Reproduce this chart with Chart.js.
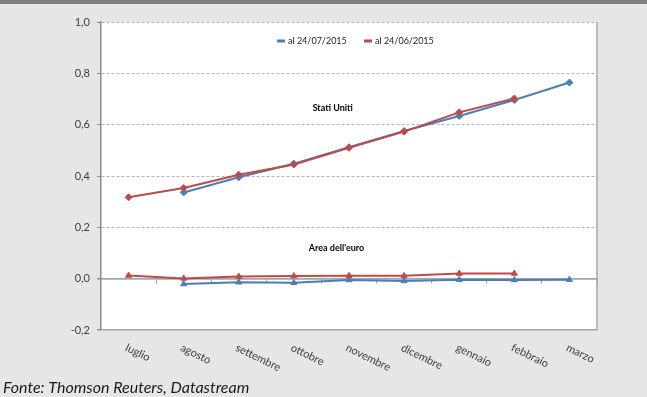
<!DOCTYPE html>
<html>
<head>
<meta charset="utf-8">
<script src="https://cdn.jsdelivr.net/npm/chart.js@4/dist/chart.umd.min.js"></script>
<style>
  html, body { margin: 0; padding: 0; background: #e6e6e6; overflow: hidden; }
  #chart { display: block; }
</style>
</head>
<body>
<canvas id="chart" width="647" height="397"></canvas>
<script>
const months = ["luglio", "agosto", "settembre", "ottobre", "novembre", "dicembre", "gennaio", "febbraio", "marzo"];
const seriesNames = ["al 24/07/2015", "al 24/06/2015"];

// Stati Uniti
const usJul = [null, 0.336, 0.395, 0.448, 0.512, 0.575, 0.634, 0.696, 0.764];
const usJun = [0.317, 0.353, 0.405, 0.445, 0.510, 0.573, 0.648, 0.702, null];
// Area dell'euro
const euJul = [null, -0.021, -0.014, -0.016, -0.005, -0.009, -0.004, -0.005, -0.004];
const euJun = [0.012, 0.001, 0.008, 0.010, 0.011, 0.011, 0.020, 0.020, null];

const yMin = -0.2, yMax = 1.0, yStep = 0.2;
const notes = [
  { text: "Stati Uniti", x: 3.34, y: 0.665 },
  { text: "Area dell'euro", x: 3.27, y: 0.118 }
];
const footer = "Fonte: Thomson Reuters, Datastream";

const blue = "#4a7ebb";
const red = "#be4b48";
const font = "Lato, 'Open Sans', sans-serif";

function fmt(v) {
  return (Math.round(v * 10) / 10 + 0).toFixed(1).replace(".", ",");
}

function isSolid(v) {
  return Math.abs(v) < 1e-9 || Math.abs(v - yMin) < 1e-9;
}

function line(label, data, color, marker, order) {
  return {
    label, data, order,
    borderColor: color,
    backgroundColor: color,
    borderWidth: 2,
    pointStyle: marker,
    pointRadius: 3.5,
    pointBorderWidth: 1,
    tension: 0,
    spanGaps: false
  };
}

const decor = {
  id: "decor",
  beforeDraw(chart) {
    const { ctx, chartArea: a } = chart;
    ctx.save();
    ctx.fillStyle = "#e6e6e6";
    ctx.fillRect(0, 0, chart.width, chart.height);
    ctx.fillStyle = "#808080";
    ctx.fillRect(0, 0, chart.width, 4);
    ctx.fillStyle = "#ffffff";
    ctx.fillRect(a.left, a.top, a.right - a.left, a.bottom - a.top);
    ctx.restore();
  },
  afterDraw(chart) {
    const { ctx, chartArea: a } = chart;
    const xs = chart.scales.x, ys = chart.scales.y;
    ctx.save();

    // right border of the plot
    ctx.strokeStyle = "#a6a6a6";
    ctx.lineWidth = 1.5;
    ctx.beginPath();
    ctx.moveTo(a.right, a.top);
    ctx.lineTo(a.right, a.bottom);
    ctx.stroke();

    // legend
    ctx.font = "9px " + font;
    ctx.textBaseline = "middle";
    ctx.textAlign = "left";
    const ly = a.top + 19;
    let lx = 277;
    [[seriesNames[0], blue], [seriesNames[1], red]].forEach(([name, col]) => {
      ctx.fillStyle = col;
      ctx.fillRect(lx, ly - 1.5, 8, 3);
      ctx.fillStyle = "#262626";
      ctx.fillText(name, lx + 11, ly);
      lx += 87;
    });

    // series notes
    ctx.font = "bold 9px " + font;
    ctx.fillStyle = "#000";
    notes.forEach(n => {
      ctx.fillText(n.text, xs.getPixelForValue(n.x), ys.getPixelForValue(n.y));
    });

    // rotated month labels
    ctx.font = "11px " + font;
    ctx.fillStyle = "#404040";
    ctx.textBaseline = "top";
    months.forEach((m, i) => {
      const px = xs.getPixelForValue(i);
      ctx.save();
      ctx.translate(px, a.bottom + 12);
      ctx.rotate(26 * Math.PI / 180);
      ctx.fillText(m, 0, 0);
      ctx.restore();
    });

    // source
    ctx.font = "italic 16px " + font;
    ctx.fillStyle = "#1a1a1a";
    ctx.textBaseline = "middle";
    ctx.fillText(footer, 3, 388);
    ctx.restore();
  }
};

new Chart(document.getElementById("chart"), {
  type: "line",
  data: {
    labels: months,
    datasets: [
      line(seriesNames[1], usJun, red, "rectRot", 1),
      line(seriesNames[1], euJun, red, "triangle", 1),
      line(seriesNames[0], usJul, blue, "rectRot", 2),
      line(seriesNames[0], euJul, blue, "triangle", 2)
    ]
  },
  options: {
    responsive: false,
    animation: false,
    devicePixelRatio: 1,
    layout: { padding: { top: 22, right: 50, bottom: 67, left: 0 } },
    plugins: {
      legend: { display: false },
      tooltip: { enabled: false }
    },
    scales: {
      x: {
        type: "category",
        offset: true,
        position: { y: 0 },
        grid: {
          offset: true,
          drawOnChartArea: false,
          drawTicks: true,
          tickLength: 4,
          color: "#a0a0a0",
          tickColor: "#a0a0a0"
        },
        border: { display: true, color: "#a6a6a6", width: 1.5 },
        ticks: { display: false }
      },
      y: {
        min: yMin,
        max: yMax,
        afterFit(scale) { scale.width = 101; },
        ticks: {
          stepSize: yStep,
          color: "#404040",
          padding: 7,
          font: { family: font, size: 11 },
          callback: v => fmt(v)
        },
        grid: {
          color: c => (c.tick && isSolid(c.tick.value)) ? "#a6a6a6" : "#b5b5b5",
          lineWidth: c => (c.tick && isSolid(c.tick.value)) ? 1.5 : 1,
          tickLength: 4,
          tickColor: "#8c8c8c",
          tickBorderDash: []
        },
        border: {
          display: true,
          color: "#8c8c8c",
          width: 1.5,
          dash: c => (c.tick && !isSolid(c.tick.value)) ? [3, 2] : []
        }
      }
    }
  },
  plugins: [decor]
});
</script>
</body>
</html>
